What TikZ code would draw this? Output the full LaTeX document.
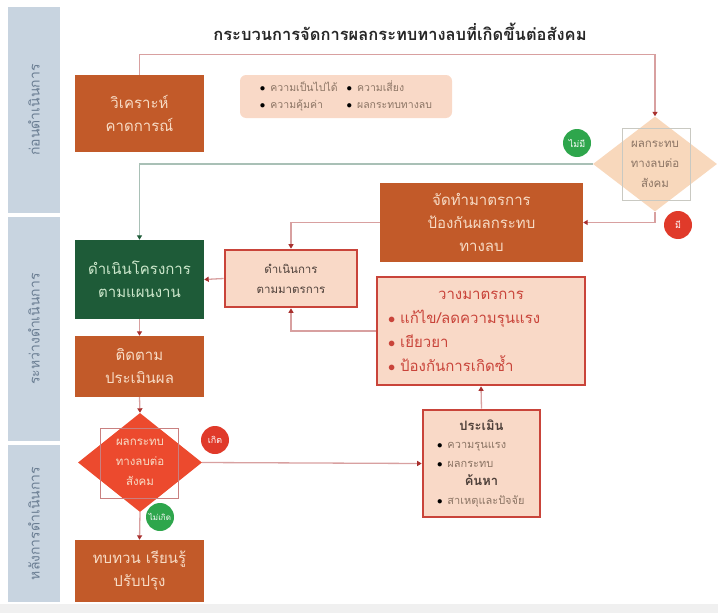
\documentclass[tikz,border=0pt]{standalone}
\usepackage{fontspec}
\setmainfont{Loma}[Script=Thai]
\usetikzlibrary{arrows.meta,shapes.geometric}

\definecolor{sidefill}{HTML}{C8D4E0}
\definecolor{sidetext}{HTML}{6B7E93}
\definecolor{rust}{HTML}{C25A29}
\definecolor{cream}{HTML}{F7DCC6}
\definecolor{forest}{HTML}{1E5B38}
\definecolor{mint}{HTML}{CDE8CC}
\definecolor{peach}{HTML}{F9D9C7}
\definecolor{brick}{HTML}{C9443A}
\definecolor{sand}{HTML}{F8D8BC}
\definecolor{alarm}{HTML}{EC4A2E}
\definecolor{okgreen}{HTML}{2EA64C}
\definecolor{stopred}{HTML}{E03A2A}
\definecolor{rose}{HTML}{D8A0A0}
\definecolor{sage}{HTML}{A9C0B6}
\definecolor{tipred}{HTML}{A8302E}
\definecolor{inkbrown}{HTML}{4E403A}
\definecolor{softbrown}{HTML}{8C7565}
\definecolor{framegray}{HTML}{C9C9C2}
\definecolor{framerose}{HTML}{C98080}

% bullet mark in a chosen colour
\newcommand{\bul}[1][black]{\textcolor{#1}{$\bullet$}\hspace{5pt}}

\begin{document}
\begin{tikzpicture}[x=1pt,y=-1pt,
  lane/.style={fill=sidefill,draw=none,rotate=90,text=sidetext,
    font=\fontsize{14}{16}\selectfont,inner sep=0pt},
  stepbox/.style={draw=none,inner sep=2pt,align=center,
    font=\fontsize{15}{23}\selectfont},
  rustbox/.style={stepbox,fill=rust,text=cream},
  greenbox/.style={stepbox,fill=forest,text=mint},
  measbox/.style={draw=brick,line width=2.6pt,fill=peach,inner sep=2pt},
  decision/.style={diamond,aspect=1.3,inner sep=0pt,align=center,
    minimum width=124pt,font=\fontsize{11.5}{20}\selectfont},
  badge/.style={circle,minimum size=28pt,inner sep=0pt,text=white,
    font=\fontsize{9}{10}\selectfont},
  flow/.style={draw=rose,line width=1.3pt,
    -{Triangle[length=4.5pt,width=5pt,color=tipred]}},
  skipflow/.style={draw=sage,line width=1.3pt,
    -{Triangle[length=4.5pt,width=5pt,color=forest]}},
  textframe/.style={draw,line width=0.8pt}
]
\useasboundingbox (0,0) rectangle (718,613);
\fill[black!6] (0,604) rectangle (718,613);

% phase lanes
\node[lane,minimum width=206pt,minimum height=52pt] (before) at (34,110) {ก่อนดำเนินการ};
\node[lane,minimum width=224pt,minimum height=52pt] (during) at (34,329) {ระหว่างดำเนินการ};
\node[lane,minimum width=157pt,minimum height=52pt] (after) at (34,523.5) {หลังการดำเนินการ};

% heading
\node[font=\bfseries\fontsize{16.5}{18}\selectfont,text=black!85] (title) at (400,32)
  {กระบวนการจัดการผลกระทบทางลบที่เกิดขึ้นต่อสังคม};

% steps
\node[rustbox,minimum width=129pt,minimum height=77pt] (analyse) at (139.5,113.5)
  {วิเคราะห์\\คาดการณ์};
\node[fill=peach,rounded corners=6pt,minimum width=212pt,minimum height=43pt,
  text=softbrown,font=\fontsize{10.5}{17}\selectfont] (factors) at (346,96.5)
  {\begin{tabular}{@{}l@{\hspace{9pt}}l@{}}
   \bul ความเป็นไปได้ & \bul ความเสี่ยง\\
   \bul ความคุ้มค่า & \bul ผลกระทบทางลบ
   \end{tabular}};
\node[decision,fill=sand,minimum height=95pt,text=softbrown] (impact) at (655,164)
  {ผลกระทบ\\ทางลบต่อ\\สังคม};
\draw[textframe,draw=framegray] (622,128) rectangle (690,200);

\node[rustbox,minimum width=203pt,minimum height=79pt] (prevent) at (481.5,222.5)
  {จัดทำมาตรการ\\ป้องกันผลกระทบ\\ทางลบ};
\node[greenbox,minimum width=129pt,minimum height=79pt] (project) at (139.5,279.5)
  {ดำเนินโครงการ\\ตามแผนงาน};
\node[measbox,minimum width=132pt,minimum height=57pt,align=center,text=inkbrown,
  font=\fontsize{11.5}{20}\selectfont] (apply) at (291,278.5)
  {ดำเนินการ\\ตามมาตรการ};
\node[measbox,minimum width=208pt,minimum height=108pt,text=brick,
  font=\fontsize{15}{24}\selectfont] (plan) at (481,331)
  {\begin{tabular}{@{}p{186pt}@{}}
   \multicolumn{1}{@{}c@{}}{วางมาตรการ}\\
   \bul[brick]แก้ไข/ลดความรุนแรง\\
   \bul[brick]เยียวยา\\
   \bul[brick]ป้องกันการเกิดซ้ำ
   \end{tabular}};
\node[rustbox,minimum width=129pt,minimum height=61pt] (monitor) at (139.5,366.5)
  {ติดตาม\\ประเมินผล};
\node[decision,fill=alarm,minimum height=99pt,text=cream] (occur) at (140,462.5)
  {ผลกระทบ\\ทางลบต่อ\\สังคม};
\draw[textframe,draw=framerose] (100,428) rectangle (178,498);
\node[measbox,minimum width=117pt,minimum height=107pt,text=softbrown,
  font=\fontsize{11}{18.5}\selectfont] (assess) at (481.5,463.5)
  {\begin{tabular}{@{}p{89pt}@{}}
   \multicolumn{1}{@{}c@{}}{\textcolor{inkbrown}{\bfseries\fontsize{13}{18.5}\selectfont ประเมิน}}\\
   \bul ความรุนแรง\\
   \bul ผลกระทบ\\
   \multicolumn{1}{@{}c@{}}{\textcolor{inkbrown}{\bfseries\fontsize{13}{18.5}\selectfont ค้นหา}}\\
   \bul สาเหตุและปัจจัย
   \end{tabular}};
\node[rustbox,minimum width=129pt,minimum height=62pt] (review) at (139.5,571)
  {ทบทวน เรียนรู้\\ปรับปรุง};

% answer badges
\node[badge,fill=okgreen] (nohit) at (577,143) {ไม่มี};
\node[badge,fill=stopred] (hit) at (678,225) {มี};
\node[badge,fill=stopred] (happened) at (215,440) {เกิด};
\node[badge,fill=okgreen,font=\fontsize{8}{9}\selectfont] (avoided) at (160,517) {ไม่เกิด};

% connectors
\draw[flow] (analyse.north) -- ++(0,-20) -| (impact.north);
\draw[skipflow] (impact.west) -| (project.north);
\draw[flow] (impact.south) |- (prevent.east);
\draw[flow] (prevent.west) -| (apply.north);
\draw[flow] (apply.west) -- (project.east);
\draw[flow] (plan.west) -| (apply.south);
\draw[flow] (assess.north) -- (plan.south);
\draw[flow] (occur.east) -- (assess.west);
\draw[flow] (project.south) -- (monitor.north);
\draw[flow] (monitor.south) -- (occur.north);
\draw[flow] (occur.south) -- (review.north);
\end{tikzpicture}
\end{document}
